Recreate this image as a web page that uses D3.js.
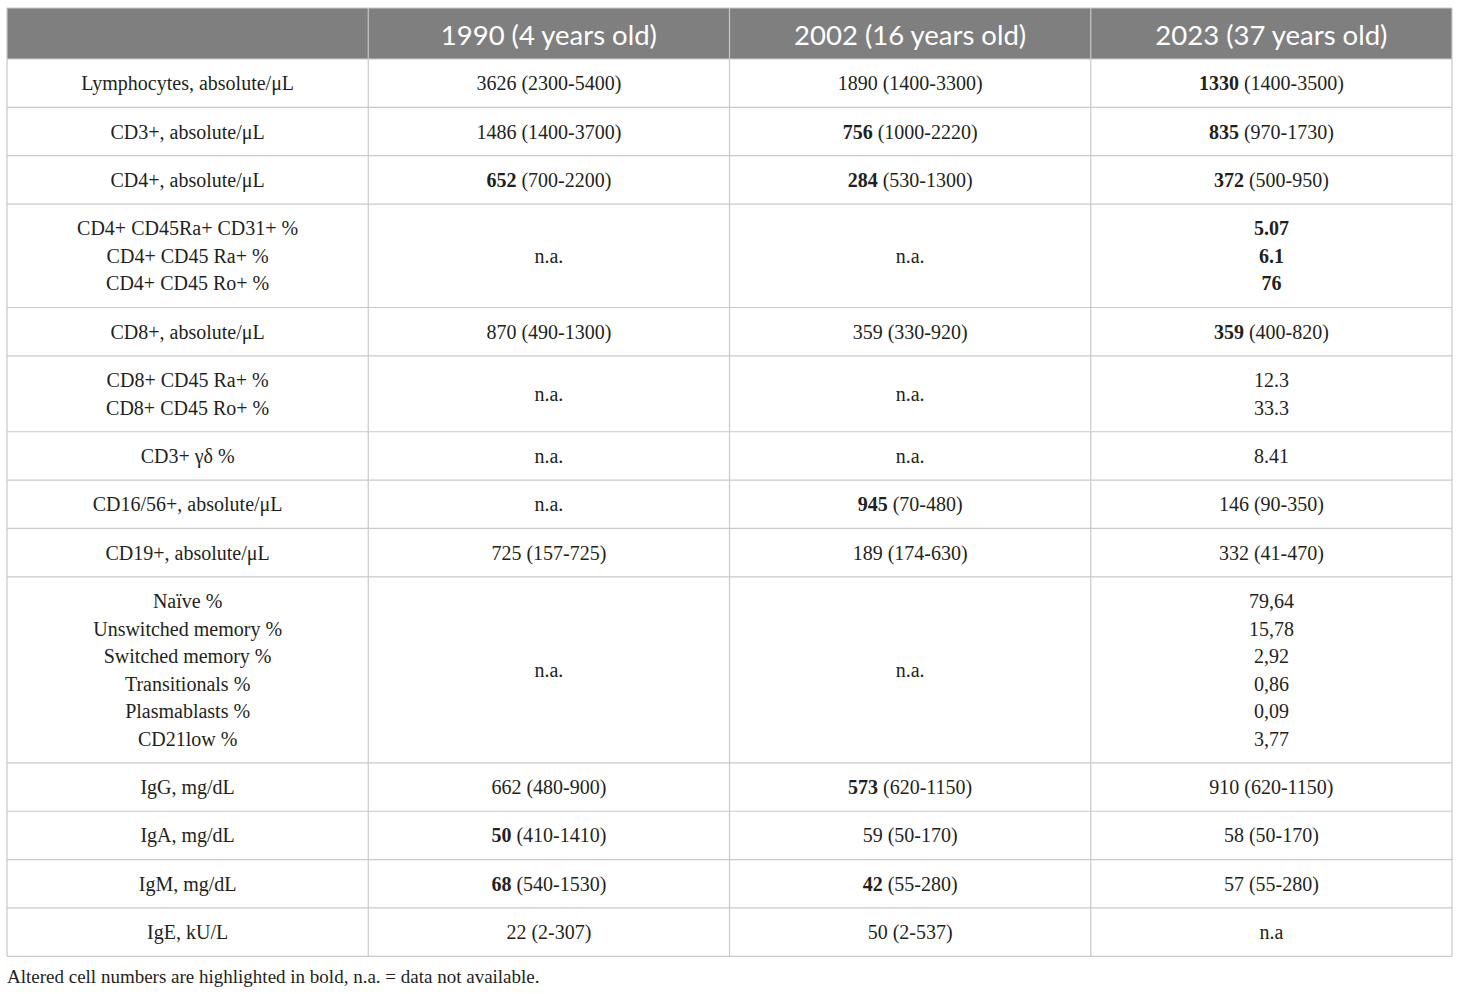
<!DOCTYPE html>
<html>
<head>
<meta charset="utf-8">
<script src="https://cdn.jsdelivr.net/npm/d3@7"></script>
<style>
  body { margin: 0; background: #fff; }
  svg { display: block; }
</style>
</head>
<body>
<svg id="chart" width="1460" height="994"></svg>
<script>
// column headers
const headers = ["", "1990 (4 years old)", "2002 (16 years old)", "2023 (37 years old)"];

// row labels, one array entry per line
const labels = [
  ["Lymphocytes, absolute/μL"],
  ["CD3+, absolute/μL"],
  ["CD4+, absolute/μL"],
  ["CD4+ CD45Ra+ CD31+ %", "CD4+ CD45 Ra+ %", "CD4+ CD45 Ro+ %"],
  ["CD8+, absolute/μL"],
  ["CD8+ CD45 Ra+ %", "CD8+ CD45 Ro+ %"],
  ["CD3+ γδ %"],
  ["CD16/56+, absolute/μL"],
  ["CD19+, absolute/μL"],
  ["Naïve %", "Unswitched memory %", "Switched memory %", "Transitionals %", "Plasmablasts %", "CD21low %"],
  ["IgG, mg/dL"],
  ["IgA, mg/dL"],
  ["IgM, mg/dL"],
  ["IgE, kU/L"]
];

// values, *x* = bold (altered)
const y1990 = [
  ["3626 (2300-5400)"],
  ["1486 (1400-3700)"],
  ["*652* (700-2200)"],
  ["n.a."],
  ["870 (490-1300)"],
  ["n.a."],
  ["n.a."],
  ["n.a."],
  ["725 (157-725)"],
  ["n.a."],
  ["662 (480-900)"],
  ["*50* (410-1410)"],
  ["*68* (540-1530)"],
  ["22 (2-307)"]
];
const y2002 = [
  ["1890 (1400-3300)"],
  ["*756* (1000-2220)"],
  ["*284* (530-1300)"],
  ["n.a."],
  ["359 (330-920)"],
  ["n.a."],
  ["n.a."],
  ["*945* (70-480)"],
  ["189 (174-630)"],
  ["n.a."],
  ["*573* (620-1150)"],
  ["59 (50-170)"],
  ["*42* (55-280)"],
  ["50 (2-537)"]
];
const y2023 = [
  ["*1330* (1400-3500)"],
  ["*835* (970-1730)"],
  ["*372* (500-950)"],
  ["*5.07*", "*6.1*", "*76*"],
  ["*359* (400-820)"],
  ["12.3", "33.3"],
  ["8.41"],
  ["146 (90-350)"],
  ["332 (41-470)"],
  ["79,64", "15,78", "2,92", "0,86", "0,09", "3,77"],
  ["910 (620-1150)"],
  ["58 (50-170)"],
  ["57 (55-280)"],
  ["n.a"]
];

const footnote = "Altered cell numbers are highlighted in bold, n.a. = data not available.";

const svg = d3.select("#chart");
const tLeft = 7, tRight = 1452, tTop = 8, headH = 51;
const lineH = 27.55, pad = 20.8;

const x = d3.scaleBand().domain(d3.range(4)).range([tLeft, tRight]).padding(0);

// row geometry from number of lines
const rows = labels.map((l, i) => ({
  cells: [l, y1990[i], y2002[i], y2023[i]],
  n: Math.max(l.length, y1990[i].length, y2002[i].length, y2023[i].length)
}));
let acc = tTop + headH;
rows.forEach(r => { r.y0 = acc; r.h = pad + r.n * lineH; acc += r.h; });
const tBottom = acc;

// header
svg.append("rect")
  .attr("x", tLeft).attr("y", tTop)
  .attr("width", tRight - tLeft).attr("height", headH)
  .attr("fill", "#7f7f7f");

svg.selectAll(".hd")
  .data(headers)
  .join("text")
  .attr("class", "hd")
  .attr("x", (d, i) => x(i) + x.bandwidth() / 2)
  .attr("y", tTop + headH / 2 + 1)
  .attr("text-anchor", "middle")
  .attr("dominant-baseline", "central")
  .attr("font-family", "Lato, 'Open Sans', sans-serif")
  .attr("font-size", 27.5)
  .attr("fill", "#fff")
  .text(d => d);

// grid lines
const grid = svg.append("g").attr("stroke", "#c9c9c9").attr("stroke-width", 1.2);
grid.selectAll("line.h")
  .data(rows.map(r => r.y0).concat([tBottom]))
  .join("line")
  .attr("class", "h")
  .attr("x1", tLeft).attr("x2", tRight)
  .attr("y1", d => d).attr("y2", d => d);
grid.selectAll("line.v")
  .data(d3.range(5))
  .join("line")
  .attr("class", "v")
  .attr("x1", i => i < 4 ? x(i) : tRight).attr("x2", i => i < 4 ? x(i) : tRight)
  .attr("y1", tTop).attr("y2", tBottom);
grid.append("line")
  .attr("x1", tLeft).attr("x2", tRight)
  .attr("y1", tTop).attr("y2", tTop);

// cells
const cellData = [];
rows.forEach((r, ri) => {
  r.cells.forEach((lines, ci) => {
    const off = (r.n - lines.length) / 2;
    lines.forEach((s, li) => {
      cellData.push({ s, cx: x(ci) + x.bandwidth() / 2, cy: r.y0 + pad / 2 + (li + off + 0.5) * lineH });
    });
  });
});

const txt = svg.append("g")
  .attr("font-family", "'Liberation Serif', 'Times New Roman', serif")
  .attr("font-size", 20)
  .attr("fill", "#231f20")
  .selectAll("text")
  .data(cellData)
  .join("text")
  .attr("x", d => d.cx)
  .attr("y", d => d.cy)
  .attr("text-anchor", "middle")
  .attr("dominant-baseline", "central");

txt.each(function (d) {
  const parts = d.s.split("*");
  const t = d3.select(this);
  parts.forEach((p, k) => {
    if (!p) return;
    t.append("tspan").attr("font-weight", k % 2 ? "bold" : "normal").text(p);
  });
});

svg.append("text")
  .attr("x", tLeft)
  .attr("y", tBottom + 20)
  .attr("dominant-baseline", "central")
  .attr("font-family", "'Liberation Serif', 'Times New Roman', serif")
  .attr("font-size", 19)
  .attr("fill", "#231f20")
  .text(footnote);
</script>
</body>
</html>
